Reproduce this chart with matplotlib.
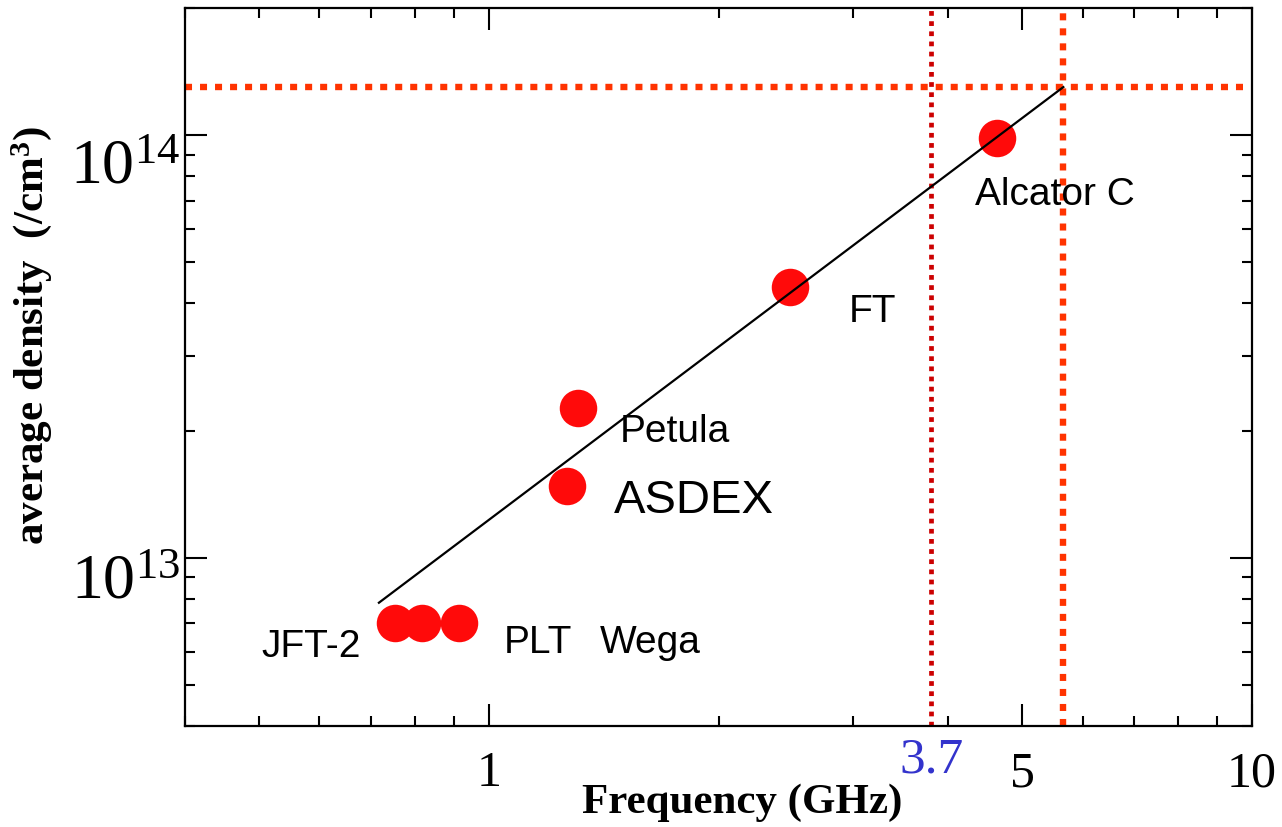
import matplotlib
matplotlib.use("Agg")
import matplotlib.pyplot as plt
from matplotlib.ticker import FixedLocator, NullFormatter, FixedFormatter
from matplotlib.transforms import ScaledTranslation

plt.rcParams['mathtext.fontset'] = 'custom'
plt.rcParams['mathtext.rm'] = 'Liberation Serif'
plt.rcParams['mathtext.it'] = 'Liberation Serif:italic'
plt.rcParams['mathtext.bf'] = 'Liberation Serif:bold'

# ---- data ----
devices = ['JFT-2', 'PLT', 'Wega', 'ASDEX', 'Petula', 'FT', 'Alcator C']
freq_ghz = [0.754, 0.817, 0.914, 1.265, 1.311, 2.48, 4.64]
density = [7.0e12, 7.0e12, 7.0e12, 1.48e13, 2.26e13, 4.38e13, 9.84e13]

fit_freq = [0.718, 5.66]
fit_density = [7.83e12, 1.30e14]

vline_37 = 3.8
vline_limit = 5.66
hline_limit = 1.30e14

label_pos = {  # (x, y) baseline-left positions of device labels
    'JFT-2': (0.503, 5.82e12),
    'PLT': (1.046, 5.95e12),
    'Wega': (1.397, 5.95e12),
    'ASDEX': (1.461, 1.277e13),
    'Petula': (1.483, 1.875e13),
    'FT': (2.96, 3.61e13),
    'Alcator C': (4.34, 6.84e13),
}

x_major = [1, 5, 10]
x_major_labels = ['1', '5', '10']
y_major = [1e13, 1e14]
y_major_labels = [r'$10^{13}$', r'$10^{14}$']

fig = plt.figure(figsize=(12.82, 8.27), dpi=100)
ax = fig.add_axes([185/1282, 1-726/827, (1252-185)/1282, (726-8)/827])
ax.set_xscale('log')
ax.set_yscale('log')
ax.set_xlim(0.4, 10)
ax.set_ylim(4e12, 2e14)

# reference lines
ax.axhline(hline_limit, color='#ff3300', lw=4.6, ls=(0, (1.1, 1.25)),
           dash_capstyle='butt', zorder=1)
ax.axvline(vline_limit, color='#ff3300', lw=4.6, ls=(0, (1.1, 1.25)),
           dash_capstyle='butt', zorder=1)
ax.axvline(vline_37, color='#cc0000', lw=3.4, ls=(0, (1.0, 1.15)),
           dash_capstyle='butt', zorder=1)

# fit line
ax.plot(fit_freq, fit_density, color='black', lw=1.6, zorder=3)

# points
ax.plot(freq_ghz, density, 'o', color='#ff0a0a', ms=27, mec='none', zorder=2)

# labels
for name, (lx, ly) in label_pos.items():
    fs = 34 if name == 'ASDEX' else 28
    ax.text(lx, ly, name, fontsize=fs, family='Liberation Sans',
            ha='left', va='baseline', zorder=4)

t37 = ax.text(vline_37, 4e12, '3.7', fontsize=37,
              family='Liberation Serif', color='#3333cc', ha='center', va='top')
t37.set_transform(ax.transData + ScaledTranslation(0, -0.11, fig.dpi_scale_trans))

# ticks
ax.xaxis.set_major_locator(FixedLocator(x_major))
ax.xaxis.set_major_formatter(FixedFormatter(x_major_labels))
ax.xaxis.set_minor_formatter(NullFormatter())
ax.yaxis.set_major_locator(FixedLocator(y_major))
ax.yaxis.set_major_formatter(FixedFormatter(y_major_labels))
ax.yaxis.set_minor_formatter(NullFormatter())

ax.tick_params(which='both', direction='in', top=True, right=True, width=1.5)
ax.tick_params(which='major', length=16)
ax.tick_params(which='minor', length=7.5)
ax.tick_params(axis='x', which='major', labelsize=36, pad=18)
ax.tick_params(axis='y', which='major', labelsize=46, pad=3)
for lab in ax.get_xticklabels():
    lab.set_family('Liberation Serif')

for sp in ax.spines.values():
    sp.set_linewidth(1.6)

fig.canvas.draw()
ylabs = ax.get_yticklabels()
offsets = [-0.16, -0.24]
for lab, off in zip(ylabs, offsets):
    lab.set_transform(lab.get_transform() + ScaledTranslation(0, off, fig.dpi_scale_trans))

fig.text(742/1282, 1-803/827, 'Frequency (GHz)', fontsize=31, weight='bold',
         family='Liberation Serif', ha='center', va='center')
fig.text(32/1282, 1-336/827, r'average density  (/cm$^\mathbf{3}$)', fontsize=31,
         weight='bold', family='Liberation Serif', ha='center', va='center',
         rotation=90)

fig.savefig('out.png', dpi=100)
